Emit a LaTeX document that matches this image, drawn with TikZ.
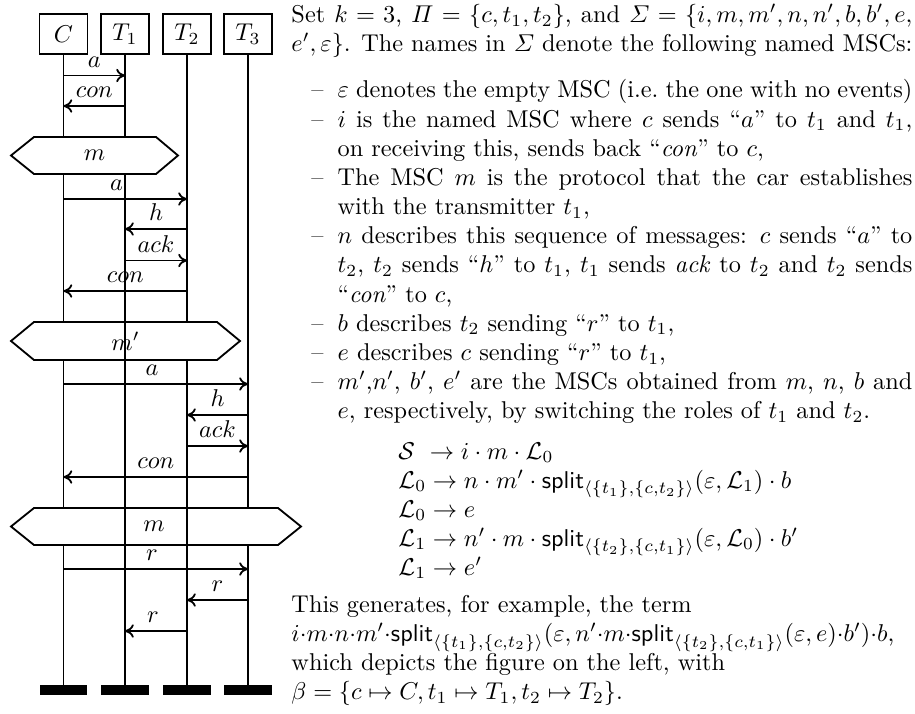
\documentclass[tikz,border=0pt]{standalone}
\usepackage{amsmath}
\usetikzlibrary{arrows.meta}
\newcommand\itemdash{\makebox[19pt][r]{–\hspace{5.8pt}}}
\newcommand\hitem{\par\noindent\hangindent=19pt\hangafter=1\itemdash}
\newcommand\splt{\textsf{split}}
\begin{document}
\begin{tikzpicture}[x=0.4115pt,y=-0.4115pt,
  life/.style={line width=0.75pt},
  msg/.style={line width=0.75pt,-{To[length=3.6pt,width=5.5pt]}},
  inst/.style={draw,line width=0.75pt,minimum width=19.75pt,minimum height=16.46pt,inner sep=0pt},
  endbar/.style={fill=black,minimum width=19.75pt,minimum height=4.1pt,inner sep=0pt},
  hex/.style={draw,fill=white,line width=0.75pt,line join=miter},
  lbl/.style={above,inner sep=0pt,yshift=3pt},
  hlbl/.style={inner sep=0pt},
  txt/.style={inner sep=0pt,anchor=base west,text width=255.5pt,align=justify},
  rule/.style={inner sep=0pt,anchor=base west}]
\useasboundingbox (0,0) rectangle (915,713);
% instances
\node[inst] (C)  at (63.5,34) {$C$};
\node[inst] (T1) at (125,34) {$T_1$};
\node[inst] (T2) at (187,34) {$T_2$};
\node[inst] (T3) at (248,34) {$T_3$};
\node[endbar] (Ce)  at (63.5,690) {};
\node[endbar] (T1e) at (125,690) {};
\node[endbar] (T2e) at (187,690) {};
\node[endbar] (T3e) at (248,690) {};
\draw[life] (C) -- (Ce);
\draw[life] (T1) -- (T1e);
\draw[life] (T2) -- (T2e);
\draw[life] (T3) -- (T3e);
% messages i
\draw[msg] (C |- 0,75.5) -- node[lbl] {$a$} (T1 |- 0,75.5);
\draw[msg] (T1 |- 0,106) -- node[lbl] {$con$} (C |- 0,106);
% hex m
\draw[hex] (11,155.5) -- (34,137) -- (156,137) -- (178,155.5) -- (156,174) -- (34,174) -- cycle;
\node[hlbl] (h1) at (94.5,155.5) {$m$};
% n
\draw[msg] (C |- 0,199) -- node[lbl,pos=0.43] {$a$} (T2 |- 0,199);
\draw[msg] (T2 |- 0,229) -- node[lbl] {$h$} (T1 |- 0,229);
\draw[msg] (T1 |- 0,260.5) -- node[lbl] {$ack$} (T2 |- 0,260.5);
\draw[msg] (T2 |- 0,291) -- node[lbl] {$con$} (C |- 0,291);
% hex m'
\draw[hex] (11,341) -- (34,322) -- (217,322) -- (240,341) -- (217,360) -- (34,360) -- cycle;
\draw[life] (T1 |- 0,322) -- (T1 |- 0,360);
\node[hlbl] (h2) at (125.5,341) {$m'$};
% n'
\draw[msg] (C |- 0,384) -- node[lbl,pos=0.48] {$a$} (T3 |- 0,384);
\draw[msg] (T3 |- 0,415) -- node[lbl] {$h$} (T2 |- 0,415);
\draw[msg] (T2 |- 0,446) -- node[lbl] {$ack$} (T3 |- 0,446);
\draw[msg] (T3 |- 0,477) -- node[lbl,pos=0.5] {$con$} (C |- 0,477);
% hex m
\draw[hex] (11,526.5) -- (34,508) -- (278,508) -- (301,526.5) -- (278,545) -- (34,545) -- cycle;
\draw[life] (T1 |- 0,508) -- (T1 |- 0,545);
\draw[life] (T2 |- 0,508) -- (T2 |- 0,545);
\node[hlbl] (h3) at (154,526.5) {$m$};
% r messages
\draw[msg] (C |- 0,569) -- node[lbl,pos=0.48] {$r$} (T3 |- 0,569);
\draw[msg] (T3 |- 0,600) -- node[lbl] {$r$} (T2 |- 0,600);
\draw[msg] (T2 |- 0,631) -- node[lbl,pos=0.55] {$r$} (T1 |- 0,631);
% text
\node[txt] (p1) at (291,22.5) {Set $k=3$, $\varPi=\{c,t_1,t_2\}$, and $\varSigma=\{i,m,m',n,n',b,b',e,\penalty-10000 e',\varepsilon\}$. The names in $\varSigma$ denote the following named MSCs:};
\node[txt] (p2) at (291,98) {\hangindent=19pt\hangafter=1\itemdash $\varepsilon$ denotes the empty MSC (i.e.\ the one with no events)
\hitem $i$ is the named MSC where $c$ sends “$a$” to $t_1$ and $t_1$,\linebreak{} on receiving this, sends back “\emph{con}” to $c$,
\hitem The MSC $m$ is the protocol that the car establishes\linebreak{} with the transmitter $t_1$,
\hitem $n$ describes this sequence of messages: $c$ sends “$a$” to $t_2$, $t_2$ sends “$h$” to $t_1$, $t_1$ sends \emph{ack} to $t_2$ and $t_2$ sends “\emph{con}” to $c$,
\hitem $b$ describes $t_2$ sending “$r$” to $t_1$,
\hitem $e$ describes $c$ sending “$r$” to $t_1$,
\hitem $m'$,$n'$, $b'$, $e'$ are the MSCs obtained from $m$, $n$, $b$ and\linebreak{} $e$, respectively, by switching the roles of $t_1$ and $t_2$.\par};
\node[rule] (r1) at (398,459) {$\mathcal{S}\ \rightarrow i\cdot m\cdot\mathcal{L}_0$};
\node[rule] (r2) at (398,488) {$\mathcal{L}_0\rightarrow n\cdot m'\cdot\splt_{\langle\{t_1\},\{c,t_2\}\rangle}(\varepsilon,\mathcal{L}_1)\cdot b$};
\node[rule] (r3) at (398,517) {$\mathcal{L}_0\rightarrow e$};
\node[rule] (r4) at (398,546) {$\mathcal{L}_1\rightarrow n'\cdot m\cdot\splt_{\langle\{t_2\},\{c,t_1\}\rangle}(\varepsilon,\mathcal{L}_0)\cdot b'$};
\node[rule] (r5) at (398,575) {$\mathcal{L}_1\rightarrow e'$};
\node[txt,align=left] (p3) at (291,612) {This generates, for example, the term\\
$i{\cdot}m{\cdot}n{\cdot}m'{\cdot}\splt_{\langle\{t_1\},\{c,t_2\}\rangle}(\varepsilon,n'{\cdot}m{\cdot}\splt_{\langle\{t_2\},\{c,t_1\}\rangle}(\varepsilon,e){\cdot}b'){\cdot}b$,\\
which depicts the figure on the left, with\\
$\beta=\{c\mapsto C,t_1\mapsto T_1,t_2\mapsto T_2\}$.};
\end{tikzpicture}
\end{document}
